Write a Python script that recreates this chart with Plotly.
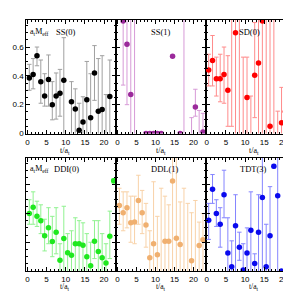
import plotly.graph_objects as go

# ---------------- data ----------------
panel_names = ["SS(0)", "SS(1)", "SD(0)", "DDI(0)", "DDL(1)", "TDT(3)"]

ss0_t   = [0.5, 1.5, 2.5, 3.5, 4.5, 5.5, 6.5, 7.5, 8.5, 9.5, 11.5, 12.5, 13.5, 14.5, 15.5, 16.5, 17.5, 18.5, 19.5, 20.5, 21.5]
ss0_val = [0.386, 0.41, 0.54, 0.36, 0.26, 0.375, 0.20, 0.26, 0.28, 0.37, 0.22, 0.17, 0.023, 0.08, 0.235, 0.11, 0.42, 0.155, 0.166, -0.05, 0.257]
ss0_hi  = [0.48, 0.52, 0.60, 0.51, 0.415, 0.545, 0.36, 0.42, 0.445, 0.665, 0.36, 0.31, 0.21, 0.255, 0.50, 0.415, 0.61, 0.52, 0.54, 0.27, 0.51]
ss0_lo  = [0.30, 0.31, 0.47, 0.21, 0.19, 0.19, 0.095, 0.10, 0.12, -0.2, -0.1, -0.1, -0.1, -0.1, -0.1, -0.1, 0.23, -0.1, -0.1, -0.2, -0.1]

ss1_t   = [1.5, 2.5, 3.5, 4.5, 7.5, 8.5, 9.5, 10.5, 11.5, 14.5, 16.5, 17.5, 19.5, 20.5, 21.5, 22.5]
ss1_val = [0.78, 0.62, 0.27, 1.0, 0.0, 0.0, 0.0, 0.0, 0.0, 0.536, 0.0, 1.0, -0.05, 0.184, -0.05, 0.01]
ss1_hi  = [1.2, 1.2, 1.2, 1.5, 0.01, 0.01, 0.01, 0.01, 0.01, 0.545, 0.01, 1.5, 0.11, 0.307, 0.16, 0.14]
ss1_lo  = [0.336, 0.2, -0.2, -0.5, -0.01, -0.01, -0.01, -0.01, -0.01, 0.527, -0.01, -0.5, -0.2, 0.12, -0.2, -0.1]

sd0_t   = [0.5, 1.5, 2.5, 3.5, 4.5, 5.5, 6.5, 7.5, 8.5, 9.5, 10.5, 11.5, 12.5, 13.5, 14.5, 15.5, 16.5, 17.5, 18.5, 19.5, 20.5, 21.5, 22.5]
sd0_val = [0.44, 0.507, 0.38, 0.38, 0.41, 0.30, 1.0, 0.70, 1.0, -0.1, 0.25, -0.1, 0.405, 0.49, 0.78, 1.0, 0.05, 1.0, -0.1, 0.075, 0.152, 0.45, 0.04]
sd0_hi  = [0.55, 0.68, 0.53, 0.55, 0.60, 0.54, 1.5, 1.2, 1.5, 0.53, 0.53, 0.26, 0.77, 1.2, 1.2, 1.5, 1.2, 1.5, 0.155, 0.32, 0.39, 1.2, 0.495]
sd0_lo  = [0.33, 0.33, 0.26, 0.22, 0.21, 0.05, 0.05, -0.2, -0.5, -0.2, -0.2, -0.2, 0.11, -0.2, -0.2, -0.5, -0.2, -0.5, -0.2, -0.2, -0.2, -0.2, -0.2]

ddi0_t   = [0.5, 1.5, 2.5, 3.5, 4.5, 5.5, 6.5, 7.5, 8.5, 9.5, 10.5, 11.5, 12.5, 13.5, 14.5, 15.5, 16.5, 17.5, 18.5, 19.5, 20.5, 21.5, 22.5]
ddi0_val = [0.40, 0.443, 0.38, 0.35, 0.245, 0.30, 0.205, 0.27, 0.075, 0.227, 0.127, 0.11, 0.19, 0.19, 0.18, 0.10, 0.037, 0.207, 0.136, 0.093, 0.057, 0.241, 0.627]
ddi0_hi  = [0.495, 0.55, 0.485, 0.46, 0.36, 0.44, 0.38, 0.44, 0.19, 0.45, 0.26, 0.28, 0.37, 0.35, 0.335, 0.26, 0.20, 0.35, 0.35, 0.26, 0.19, 0.416, 0.64]
ddi0_lo  = [0.325, 0.325, 0.31, 0.26, 0.14, 0.19, 0.10, 0.12, -0.1, -0.1, -0.1, -0.1, -0.1, -0.1, -0.1, -0.1, -0.1, 0.087, -0.1, -0.1, -0.1, 0.087, 0.61]

ddl1_t   = [0.5, 1.5, 2.5, 3.5, 4.5, 5.5, 6.5, 7.5, 8.5, 9.5, 10.5, 11.5, 12.5, 13.5, 14.5, 15.5, 16.5, 17.5, 18.5, 19.5, 20.5, 21.5, 22.5]
ddl1_val = [0.455, 0.405, 0.44, 0.336, 0.34, 0.49, 0.405, 0.32, 0.093, 0.19, 0.114, -0.1, 0.207, 0.207, 0.625, 0.228, 0.185, -0.1, -0.1, 0.071, -0.1, 0.177, 0.218]
ddl1_hi  = [0.575, 0.55, 0.55, 0.52, 0.52, 0.665, 0.56, 0.47, 0.28, 0.62, 0.38, 0.575, 0.52, 0.46, 1.2, 1.2, 0.48, 0.575, 0.47, 0.405, 0.49, 0.34, 0.40]
ddl1_lo  = [0.325, 0.28, 0.30, 0.20, 0.19, 0.325, 0.26, 0.166, -0.1, -0.1, -0.1, -0.2, -0.1, -0.1, -0.2, -0.2, -0.1, -0.2, -0.2, -0.1, -0.2, -0.1, -0.1]

tdt3_t   = [0.5, 1.5, 2.5, 3.5, 4.5, 5.5, 6.5, 7.5, 8.5, 9.5, 10.5, 11.5, 12.5, 13.5, 14.5, 15.5, 16.5, 17.5, 18.5, 19.5, 20.5, 21.5]
tdt3_val = [0.352, 0.568, 0.40, 0.325, 0.53, 0.125, 0.03, 0.314, 0.166, 0.007, 0.125, 0.284, 0.052, 0.27, 0.51, 0.03, 0.245, 0.727, 0.523, 0.0, 0.0, 0.0]
tdt3_hi  = [0.47, 0.67, 0.495, 0.44, 0.70, 0.37, 0.21, 0.53, 0.27, 0.19, 0.30, 0.55, 0.12, 0.53, 1.2, 0.325, 0.586, 0.74, 1.2, 0.01, 0.01, 0.01]
tdt3_lo  = [0.22, 0.47, 0.31, 0.166, 0.37, -0.1, -0.1, -0.1, 0.075, -0.1, -0.1, -0.1, -0.1, -0.1, -0.1, -0.1, -0.1, 0.715, -0.1, -0.01, -0.01, -0.01]

x_tick_vals = [0, 5, 10, 15, 20]
y_tick_vals = [0, 0.2, 0.4, 0.6]
y_tick_text = ["0", "0.2", "0.4", "0.6"]

# ---------------- style ----------------
series = [
    (ss0_t, ss0_val, ss0_hi, ss0_lo, "#000000", "#a0a0a0"),
    (ss1_t, ss1_val, ss1_hi, ss1_lo, "#9b2a9b", "#d79ad7"),
    (sd0_t, sd0_val, sd0_hi, sd0_lo, "#ff0000", "#ff8c8c"),
    (ddi0_t, ddi0_val, ddi0_hi, ddi0_lo, "#1fe81f", "#90f290"),
    (ddl1_t, ddl1_val, ddl1_hi, ddl1_lo, "#f0b070", "#f8d2a8"),
    (tdt3_t, tdt3_val, tdt3_hi, tdt3_lo, "#0a0aee", "#8585ff"),
]

W = H = 291
col_px = [(17.3, 107.7), (107.7, 197.3), (197.3, 287.7)]
row_px = [(12.3, 127.7), (152.3, 267.7)]

fig = go.Figure()
layout = dict(
    width=W, height=H,
    margin=dict(l=0, r=0, t=0, b=0),
    paper_bgcolor="white", plot_bgcolor="white",
    showlegend=False,
    font=dict(family="Liberation Sans, Arial, sans-serif", size=8, color="black"),
)

for i, (t, v, hi, lo, mc, ec) in enumerate(series):
    r, c = divmod(i, 3)
    idx = i + 1
    xa = "x" if idx == 1 else f"x{idx}"
    ya = "y" if idx == 1 else f"y{idx}"
    plus = [h - val for h, val in zip(hi, v)]
    minus = [val - l for l, val in zip(lo, v)]
    fig.add_trace(go.Scatter(
        x=t, y=v, mode="markers", xaxis=xa, yaxis=ya,
        marker=dict(color=mc, size=5.5, line=dict(width=0)),
        error_y=dict(type="data", symmetric=False, array=plus, arrayminus=minus,
                     color=ec, thickness=1, width=2.2),
        cliponaxis=True,
    ))
    x0, x1 = col_px[c]
    y0, y1 = row_px[r]
    xkey = "xaxis" if idx == 1 else f"xaxis{idx}"
    ykey = "yaxis" if idx == 1 else f"yaxis{idx}"
    layout[xkey] = dict(
        domain=[x0 / W, x1 / W], anchor=ya, range=[-0.3, 23.2],
        showgrid=False, zeroline=False, showline=True, linecolor="black", linewidth=1,
        mirror="allticks", ticks="inside", ticklen=4, tickcolor="black",
        tickvals=x_tick_vals, tickfont=dict(size=8), ticklabelstandoff=(1 if r == 0 else 0),
        minor=dict(dtick=1, tick0=0, ticks="inside", ticklen=2, tickcolor="black"),
    )
    layout[ykey] = dict(
        domain=[1 - y1 / H, 1 - y0 / H], anchor=xa, range=[0, 0.787],
        showgrid=False, zeroline=False, showline=True, linecolor="black", linewidth=1,
        mirror="allticks", ticks="inside", ticklen=4, tickcolor="black",
        tickvals=y_tick_vals, ticktext=y_tick_text, tickfont=dict(size=8),
        showticklabels=(idx == 1),
        minor=dict(dtick=0.05, tick0=0, ticks="inside", ticklen=2, tickcolor="black"),
    )

annots = []
title_x = [57, 153, 241, 58, 157, 245]
for i, name in enumerate(panel_names):
    r, c = divmod(i, 3)
    ty = 24 if r == 0 else 164
    annots.append(dict(text=name, x=title_x[i] / W, y=1 - ty / H, xref="paper", yref="paper",
                       showarrow=False, xanchor="center", yanchor="middle",
                       font=dict(family="Liberation Serif, serif", size=8.5)))
for ty in (24, 164):
    annots.append(dict(text="a<sub>t</sub>M<sub>eff</sub>", x=19.5 / W, y=1 - ty / H,
                       xref="paper", yref="paper", showarrow=False,
                       xanchor="left", yanchor="middle",
                       font=dict(family="Liberation Serif, serif", size=8)))
label_x = [56, 153, 246]
for ly, fs in ((145, 8), (284, 7.5)):
    for lx in label_x:
        annots.append(dict(text="t/a<sub>t</sub>", x=lx / W, y=1 - ly / H,
                           xref="paper", yref="paper", showarrow=False,
                           xanchor="center", yanchor="middle",
                           font=dict(family="Liberation Serif, serif", size=fs)))
layout["annotations"] = annots
fig.update_layout(**layout)
fig.write_html("out.html")
